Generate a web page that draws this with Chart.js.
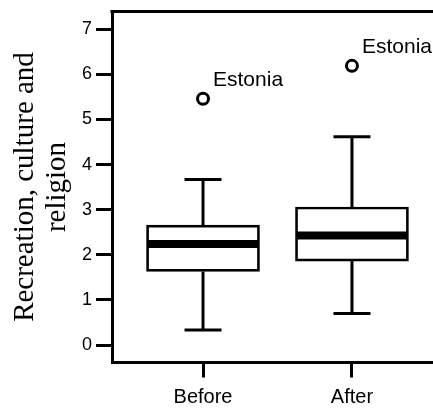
<!DOCTYPE html>
<html>
<head>
<meta charset="utf-8">
<script src="https://cdn.jsdelivr.net/npm/chart.js@4.4.1/dist/chart.umd.min.js"></script>
<style>
  html, body { margin: 0; padding: 0; background: #fff; }
  #wrap { width: 433px; height: 410px; position: relative; }
</style>
</head>
<body>
<div id="wrap"><canvas id="boxChart"></canvas></div>
<script>
// values
const categories = ['Before', 'After'];
const whiskerLow = [0.33, 0.70];
const quartile1 = [1.63, 1.86];
const medians = [2.24, 2.43];
const quartile3 = [2.66, 3.06];
const whiskerHigh = [3.67, 4.62];
const outlierGroups = ['Before', 'After'];
const outlierValues = [5.46, 6.19];
const outlierNames = ['Estonia', 'Estonia'];
const yTicks = [0, 1, 2, 3, 4, 5, 6, 7];

const sansFont = '"Liberation Sans", Arial, Helvetica, sans-serif';
const serifFont = '"Liberation Serif", "Times New Roman", serif';

// whiskers, caps, medians and outlier names, drawn through the chart scales
const boxParts = {
    id: 'boxParts',
    beforeDatasetsDraw(chart) {
        const { ctx, scales: { x, y } } = chart;
        ctx.save();
        ctx.strokeStyle = '#000';
        ctx.lineWidth = 3;
        ctx.lineCap = 'butt';
        categories.forEach((c, i) => {
            const px = x.getPixelForValue(i + 1);
            const lo = y.getPixelForValue(whiskerLow[i]);
            const hi = y.getPixelForValue(whiskerHigh[i]);
            ctx.beginPath();
            ctx.moveTo(px, lo);
            ctx.lineTo(px, y.getPixelForValue(quartile1[i]));
            ctx.moveTo(px, y.getPixelForValue(quartile3[i]));
            ctx.lineTo(px, hi);
            ctx.moveTo(px - 18.5, lo);
            ctx.lineTo(px + 18.5, lo);
            ctx.moveTo(px - 18.5, hi);
            ctx.lineTo(px + 18.5, hi);
            ctx.stroke();
        });
        ctx.restore();
    },
    afterDatasetsDraw(chart) {
        const { ctx, chartArea, scales: { x, y } } = chart;
        ctx.save();
        ctx.strokeStyle = '#000';

        // medians
        ctx.lineWidth = 8;
        categories.forEach((c, i) => {
            const px = x.getPixelForValue(i + 1);
            const py = y.getPixelForValue(medians[i]);
            ctx.beginPath();
            ctx.moveTo(px - 55, py);
            ctx.lineTo(px + 55, py);
            ctx.stroke();
        });

        // top frame line (no right edge in the original)
        ctx.lineWidth = 3;
        ctx.beginPath();
        ctx.moveTo(chartArea.left - 1.5, chartArea.top);
        ctx.lineTo(chartArea.right, chartArea.top);
        ctx.stroke();

        // outlier names
        ctx.fillStyle = '#000';
        ctx.font = '21px ' + sansFont;
        ctx.textAlign = 'left';
        ctx.textBaseline = 'alphabetic';
        outlierNames.forEach((name, i) => {
            const px = x.getPixelForValue(categories.indexOf(outlierGroups[i]) + 1);
            const py = y.getPixelForValue(outlierValues[i]);
            ctx.fillText(name, px + 10, py - 12.7);
        });
        ctx.restore();
    }
};

new Chart(document.getElementById('boxChart'), {
    type: 'bar',
    data: {
        datasets: [{
            type: 'bar',
            data: categories.map((c, i) => ({ x: i + 1, y: [quartile1[i], quartile3[i]] })),
            backgroundColor: '#fff',
            borderColor: '#000',
            borderWidth: 2.7,
            borderSkipped: false,
            barThickness: 113
        }, {
            type: 'scatter',
            data: outlierValues.map((v, i) => ({ x: categories.indexOf(outlierGroups[i]) + 1, y: v })),
            pointRadius: 5.5,
            pointBorderWidth: 3,
            pointBackgroundColor: '#fff',
            pointBorderColor: '#000'
        }]
    },
    options: {
        responsive: true,
        maintainAspectRatio: false,
        animation: false,
        layout: { autoPadding: false, padding: { top: 11.5, left: 0, right: 0, bottom: 0 } },
        plugins: {
            legend: { display: false },
            tooltip: { enabled: false }
        },
        scales: {
            x: {
                type: 'linear',
                min: 0.389,
                max: 2.544,
                offset: false,
                afterBuildTicks: s => { s.ticks = categories.map((c, i) => ({ value: i + 1 })); },
                afterFit: s => { s.height = 47.5; s.paddingLeft = 0; s.paddingRight = 0; },
                border: { display: true, color: '#000', width: 3 },
                grid: { offset: false, drawOnChartArea: false, drawTicks: true, tickLength: 15, color: '#000', lineWidth: 3 },
                ticks: {
                    color: '#000',
                    padding: 8,
                    maxRotation: 0,
                    autoSkip: false,
                    font: { family: sansFont, size: 20 },
                    callback: v => categories[v - 1] || ''
                }
            },
            y: {
                min: -0.388,
                max: 7.395,
                afterBuildTicks: s => { s.ticks = yTicks.map(v => ({ value: v })); },
                afterFit: s => { s.width = 112; s.paddingTop = 0; s.paddingBottom = 0; },
                border: { display: true, color: '#000', width: 3 },
                grid: { drawOnChartArea: false, drawTicks: true, tickLength: 16, color: '#000', lineWidth: 3 },
                ticks: {
                    color: '#000',
                    padding: 4,
                    font: { family: sansFont, size: 18 }
                },
                title: {
                    display: true,
                    text: ['Recreation, culture and', 'religion'],
                    color: '#000',
                    font: { family: serifFont, size: 29, lineHeight: 1.1 },
                    padding: { top: 9.5, bottom: 0 }
                }
            }
        }
    },
    plugins: [boxParts]
});
</script>
</body>
</html>
